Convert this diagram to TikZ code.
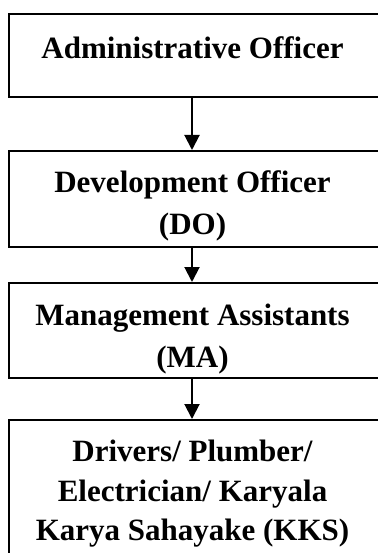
\documentclass[tikz,border=0pt]{standalone}
\usepackage{fontspec}
\setmainfont{Liberation Serif}
\usetikzlibrary{arrows.meta}
\begin{document}
\begin{tikzpicture}[x=1pt,y=-1pt,
  box/.style={draw=black, line width=2pt, minimum width=371pt, inner sep=0pt},
  lbl/.style={inner sep=0pt, align=center, anchor=base, font=\bfseries\fontsize{31}{41.5}\selectfont},
  arr/.style={line width=2pt, -{Triangle[width=15pt,length=15pt]}}]
\useasboundingbox (0,0) rectangle (377,553);
\node[box, minimum height=82.5pt] (b1) at (194.5,55.75) {};
\node[box, minimum height=95.7pt] (b2) at (194.5,198.85) {};
\node[box, minimum height=94.7pt] (b3) at (194.5,330.35) {};
\node[box, minimum height=142pt] (b4) at (194.5,491) {};
% base anchor of a multi-line node sits on its last line
\node[lbl] (t1) at (192.5,58.3) {Administrative Officer};
\node[lbl] (t2) at (192.5,234) {Development Officer\\(DO)};
\node[lbl] (t3) at (192.5,367.2) {Management Assistants\\(MA)};
\node[lbl, font=\bfseries\fontsize{31}{39.6}\selectfont] (t4) at (192.5,540.9) {Drivers/ Plumber/\\Electrician/ Karyala\\Karya Sahayake (KKS)};
\draw[arr] ([xshift=-2.5pt]b1.south) -- ([xshift=-2.5pt]b2.north);
\draw[arr] ([xshift=-2.5pt]b2.south) -- ([xshift=-2.5pt]b3.north);
\draw[arr] ([xshift=-2.5pt]b3.south) -- ([xshift=-2.5pt]b4.north);
\end{tikzpicture}
\end{document}
